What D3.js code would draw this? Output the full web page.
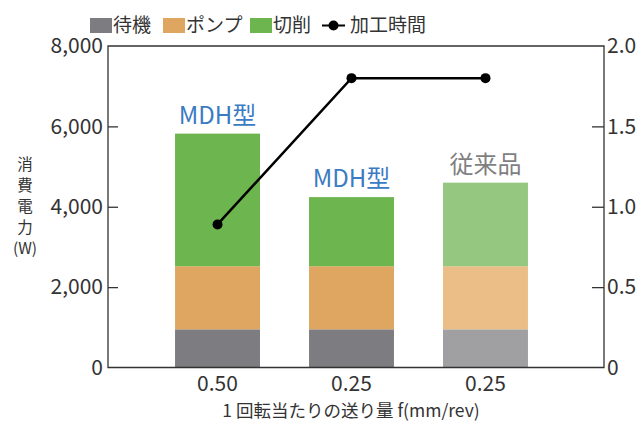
<!DOCTYPE html>
<html>
<head>
<meta charset="utf-8">
<script src="https://cdn.jsdelivr.net/npm/d3@7"></script>
<style>
body { margin: 0; background: #fff; }
text { font-family: "Noto Sans CJK JP", "Noto Sans", sans-serif; }
</style>
</head>
<body>
<script>
// données
var feeds = ["0.50", "0.25", "0.25 "];
var standby = [950, 950, 950];
var pump = [1570, 1570, 1570];
var cutting = [3300, 1720, 2080];
var machTime = [0.89, 1.8, 1.8];
var barLabels = ["MDH型", "MDH型", "従来品"];
var leftTicks = [0, 2000, 4000, 6000, 8000];
var rightTicks = [0, 0.5, 1.0, 1.5, 2.0];
var seriesNames = ["待機", "ポンプ", "切削"];

var colors = ["#7d7c81", "#dfa662", "#6cb54f"];
var colorsOld = ["#a0a0a3", "#ebbe88", "#96c781"];

var width = 640, height = 421;
var margin = {top: 46, right: 36, bottom: 54, left: 108};

var svg = d3.select("body").append("svg")
    .attr("width", width)
    .attr("height", height);

var x = d3.scaleBand()
    .domain(feeds)
    .range([126, 577])
    .padding(0.366);

var y = d3.scaleLinear()
    .domain([0, 8000])
    .range([height - margin.bottom + 0.5, margin.top]);

var y2 = d3.scaleLinear()
    .domain([0, 2])
    .range([height - margin.bottom + 0.5, margin.top]);

// empilement
var rows = feeds.map(function(f, i) {
  return {feed: f, standby: standby[i], pump: pump[i], cutting: cutting[i], i: i};
});
var stack = d3.stack().keys(["standby", "pump", "cutting"])(rows);

svg.append("g").selectAll("g")
  .data(stack)
  .enter().append("g")
  .each(function(layer, k) {
    d3.select(this).selectAll("rect")
      .data(layer)
      .enter().append("rect")
      .attr("x", function(d) { return x(d.data.feed); })
      .attr("width", x.bandwidth())
      .attr("y", function(d) { return y(d[1]); })
      .attr("height", function(d) { return y(d[0]) - y(d[1]); })
      .attr("fill", function(d) { return d.data.i == 2 ? colorsOld[k] : colors[k]; });
  });

// étiquettes des barres
svg.append("g").selectAll("text")
  .data(rows)
  .enter().append("text")
  .attr("x", function(d) { return x(d.feed) + x.bandwidth() / 2; })
  .attr("y", function(d) { return y(d.standby + d.pump + d.cutting) - 10; })
  .attr("text-anchor", "middle")
  .style("font-size", "24px")
  .style("fill", function(d) { return d.i == 2 ? "#7f7f7f" : "#3a7bc3"; })
  .text(function(d) { return barLabels[d.i]; });

// cadre / axes
var axisCol = "#333";
var frame = svg.append("g").attr("stroke", axisCol).attr("stroke-width", 1.3).attr("fill", "none");
frame.append("path")
  .attr("d", "M" + margin.left + "," + y(0) + "V" + margin.top + "H" + (width - margin.right) + "V" + y(0) + "Z");

var yAxis = svg.append("g")
  .attr("transform", "translate(" + margin.left + ",0)")
  .call(d3.axisLeft(y).tickValues(leftTicks).tickSize(-10).tickPadding(5).tickFormat(d3.format(",")));
yAxis.select(".domain").remove();
yAxis.selectAll(".tick line").filter(function(d) { return d == 0 || d == 8000; }).remove();

var y2Axis = svg.append("g")
  .attr("transform", "translate(" + (width - margin.right) + ",0)")
  .call(d3.axisRight(y2).tickValues(rightTicks).tickSize(-12).tickPadding(3)
    .tickFormat(function(d) { return d == 0 ? "0" : d3.format(".1f")(d); }));
y2Axis.select(".domain").remove();
y2Axis.selectAll(".tick line").filter(function(d) { return d == 0 || d == 2; }).remove();

var xAxis = svg.append("g")
  .attr("transform", "translate(0," + y(0) + ")")
  .call(d3.axisBottom(x).tickSize(0).tickPadding(9).tickFormat(function(d) { return d.trim(); }));
xAxis.select(".domain").remove();

svg.selectAll(".tick line").attr("stroke", axisCol).attr("stroke-width", 1.3);
svg.selectAll(".tick text")
  .style("font-size", "21px")
  .style("fill", "#333")
  .style("font-family", "\"Noto Sans CJK JP\", sans-serif");

// ligne temps d'usinage
var line = d3.line()
  .x(function(d, i) { return x(feeds[i]) + x.bandwidth() / 2; })
  .y(function(d) { return y2(d); });

svg.append("path")
  .datum(machTime)
  .attr("d", line)
  .attr("fill", "none")
  .attr("stroke", "#000")
  .attr("stroke-width", 2.5);

svg.append("g").selectAll("circle")
  .data(machTime)
  .enter().append("circle")
  .attr("cx", function(d, i) { return x(feeds[i]) + x.bandwidth() / 2; })
  .attr("cy", function(d) { return y2(d); })
  .attr("r", 5)
  .attr("fill", "#000");

// titres des axes
var ytitle = svg.append("text")
  .attr("text-anchor", "middle")
  .style("font-size", "15.5px")
  .style("fill", "#333");
["消", "費", "電", "力", "(W)"].forEach(function(c, i) {
  ytitle.append("tspan").attr("x", 25).attr("y", 170 + i * 21).text(c);
});

svg.append("text")
  .attr("x", 351)
  .attr("y", 417)
  .attr("text-anchor", "middle")
  .style("font-size", "17.5px")
  .style("fill", "#333")
  .text("1 回転当たりの送り量 f(mm/rev)");

// légende
var legend = svg.append("g");
var legX = [90, 163, 250];
seriesNames.forEach(function(n, i) {
  legend.append("rect")
    .attr("x", legX[i]).attr("y", 18)
    .attr("width", 22).attr("height", 15)
    .attr("fill", colors[i]);
  legend.append("text")
    .attr("x", legX[i] + 23).attr("y", 32)
    .style("font-size", "19px").style("fill", "#333")
    .text(n);
});
legend.append("line")
  .attr("x1", 322).attr("x2", 345).attr("y1", 25.5).attr("y2", 25.5)
  .attr("stroke", "#000").attr("stroke-width", 2);
legend.append("circle").attr("cx", 333.5).attr("cy", 25.5).attr("r", 5).attr("fill", "#000");
legend.append("text")
  .attr("x", 350).attr("y", 32)
  .style("font-size", "19px").style("fill", "#333")
  .text("加工時間");
</script>
</body>
</html>
